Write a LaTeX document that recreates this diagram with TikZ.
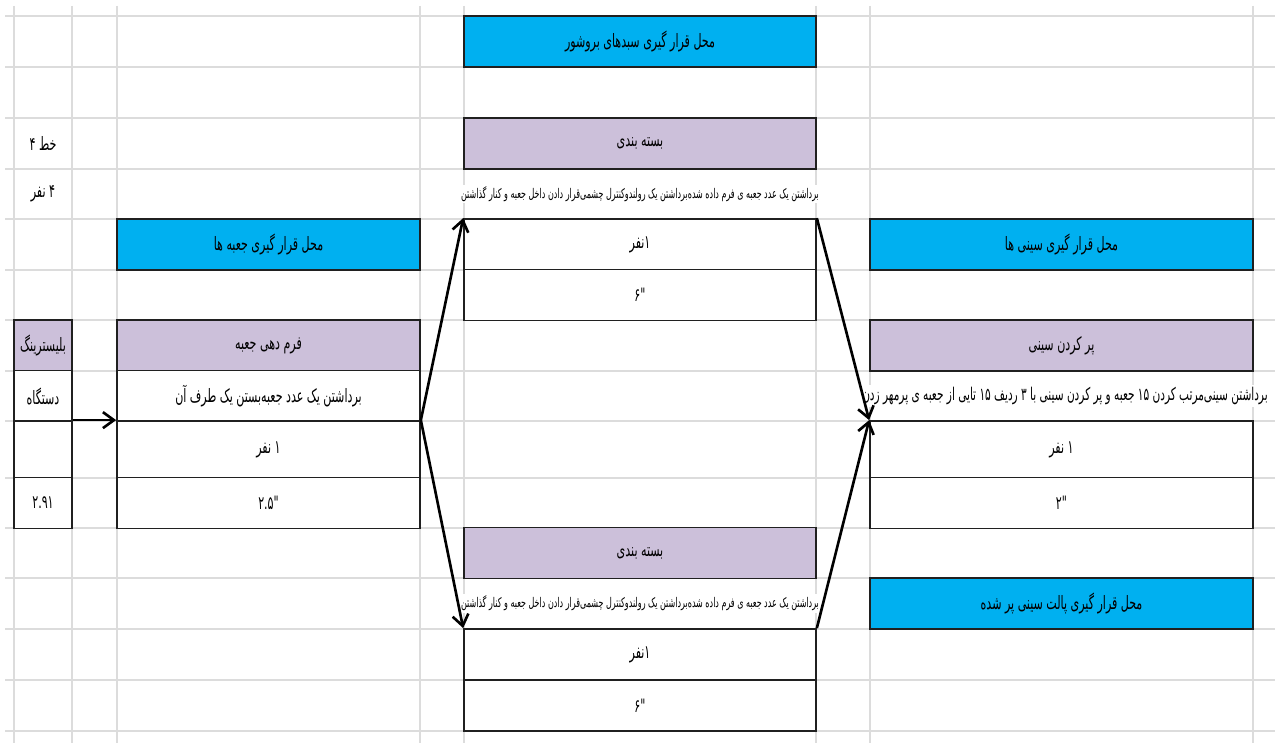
\documentclass[tikz,border=0pt]{standalone}
\usepackage{fontspec}
\usepackage{tikz}
\usetikzlibrary{arrows.meta}
\newfontfamily\farsifont[Script=Arabic,FakeStretch=0.6]{DejaVu Sans}
\TeXXeTstate=1
\newcommand{\fatxt}[1]{\beginR #1\endR}
\newcommand{\lrpair}[3]{\hbox{#1}\hspace{#3}\hbox{#2}}
\definecolor{cellblue}{HTML}{00B0F0}
\definecolor{cellpurple}{HTML}{CCC0DA}
\definecolor{gridgray}{HTML}{DCDCDC}
\definecolor{borderdark}{HTML}{202020}

\begin{document}
\begin{tikzpicture}[x=0.02cm,y=-0.02cm,
    cell/.style={draw=borderdark,line width=1pt,inner sep=0pt,minimum height=1.02cm},
    bluecell/.style={cell,fill=cellblue},
    purplecell/.style={cell,fill=cellpurple},
    whitecell/.style={cell,fill=white},
    notecell/.style={fill=white,inner sep=1pt},
    colA/.style={minimum width=1.16cm},
    colB/.style={minimum width=6.06cm},
    colC/.style={minimum width=7.04cm},
    colD/.style={minimum width=7.66cm},
    tallrow/.style={minimum height=1.14cm}]
  \useasboundingbox[fill=white] (0,0) rectangle (1275,743);
  % sheet grid
  \begin{scope}[gridgray,line width=0.6pt]
    \foreach \gx in {14,72,117,420,464,816,870,1253}
      \draw (\gx,6) -- (\gx,743);
    \foreach \gy in {16,67,118,169,219,270,320,371,421,478,528,578,629,680,731}
      \draw (5,\gy) -- (1275,\gy);
  \end{scope}
  \begin{scope}[every node/.style={font=\farsifont\fontsize{10.5}{12}\selectfont}]
    % line and staff
    \node[notecell] (khat) at (43,143.5) {\fatxt{خط ۴}};
    \node[notecell] (nafarat) at (43,194) {\fatxt{۴ نفر}};
    % blistering machine
    \node[purplecell,colA] (blister) at (43,345.5) {\fatxt{بلیسترینگ}};
    \node[whitecell,colA] (dastgah) at (43,396) {\fatxt{دستگاه}};
    \node[whitecell,colA,tallrow] (blisterempty) at (43,449.5) {};
    \node[whitecell,colA] (blistert) at (43,503) {۲.۹۱};
    % box forming
    \node[bluecell,colB] (jabe) at (268.5,244.5) {\fatxt{محل قرار گیری جعبه ها}};
    \node[purplecell,colB] (form) at (268.5,345.5) {\fatxt{فرم دهی جعبه}};
    \node[whitecell,colB] (formtxt) at (268.5,396) {\fatxt{برداشتن یک عدد جعبه‌بستن یک طرف آن}};
    \node[whitecell,colB,tallrow] (formn) at (268.5,449.5) {\fatxt{۱ نفر}};
    \node[whitecell,colB] (formt) at (268.5,503) {\lrpair{۲.۵}{"}{0pt}};
    % packing, upper
    \node[bluecell,colC] (broshur) at (640,41.5) {\fatxt{محل قرار گیری سبدهای بروشور}};
    \node[purplecell,colC] (bastetop) at (640,143.5) {\fatxt{بسته بندی}};
    \node[notecell,font=\farsifont\fontsize{7.6}{9}\selectfont] (bastetoptxt) at (640,194)
      {\fatxt{برداشتن یک عدد جعبه ی فرم داده شده‌برداشتن یک رولندوکنترل چشمی‌قرار دادن داخل جعبه و کنار گذاشتن}};
    \node[whitecell,colC] (bastetopn) at (640,244.5) {\fatxt{۱نفر}};
    \node[whitecell,colC] (bastetopt) at (640,295) {\lrpair{۶}{"}{0pt}};
    % packing, lower
    \node[purplecell,colC] (bastebot) at (640,553) {\fatxt{بسته بندی}};
    \node[notecell,font=\farsifont\fontsize{7.6}{9}\selectfont] (bastebottxt) at (640,603.5)
      {\fatxt{برداشتن یک عدد جعبه ی فرم داده شده‌برداشتن یک رولندوکنترل چشمی‌قرار دادن داخل جعبه و کنار گذاشتن}};
    \node[whitecell,colC] (bastebotn) at (640,654.5) {\fatxt{۱نفر}};
    \node[whitecell,colC] (bastebott) at (640,705.5) {\lrpair{۶}{"}{0pt}};
    % tray filling
    \node[bluecell,colD] (sini) at (1061.5,244.5) {\fatxt{محل قرار گیری سینی ها}};
    \node[purplecell,colD] (porsini) at (1061.5,345.5) {\fatxt{پر کردن سینی}};
    \node[notecell,font=\farsifont\fontsize{10}{12}\selectfont] (porsinitxt) at (1065,396)
      {\fatxt{برداشتن سینی‌مرتب کردن ۱۵ جعبه و پر کردن سینی با ۳ ردیف ۱۵ تایی از جعبه ی پرمهر زدن}};
    \node[whitecell,colD,tallrow] (porsinin) at (1061.5,449.5) {\fatxt{۱ نفر}};
    \node[whitecell,colD] (porsinit) at (1061.5,503) {\lrpair{۲}{"}{0pt}};
    \node[bluecell,colD] (pallet) at (1061.5,603.5) {\fatxt{محل قرار گیری پالت سینی پر شده}};
  \end{scope}
  \begin{scope}[>={Straight Barb[length=2.2mm,width=3.2mm]},
              every edge/.style={draw=black,line width=1.5pt}]
    \path [->] (blisterempty.north east) edge (formn.north west);
    \path [->] (formn.north east) edge (bastetopn.north west);
    \path [->] (formn.north east) edge (bastebotn.north west);
    \path [->] (bastetopn.north east) edge (porsinin.north west);
    \path [->] (bastebotn.north east) edge (porsinin.north west);
  \end{scope}
\end{tikzpicture}
\end{document}
